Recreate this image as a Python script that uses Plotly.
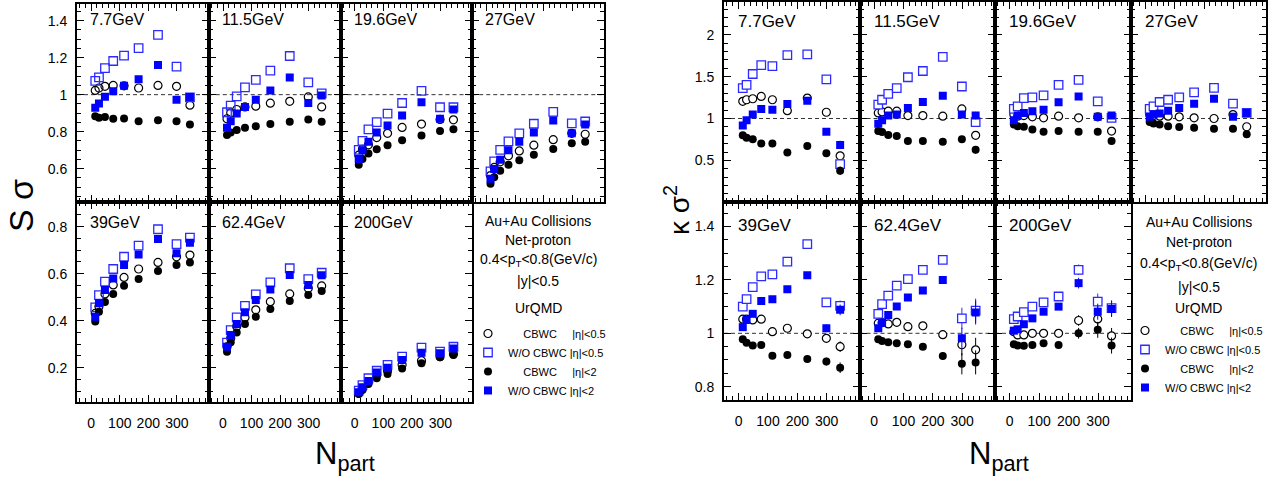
import plotly.graph_objects as go

W, H = 1274, 482
FONT = "Liberation Sans, Arial, sans-serif"

NPART = [14, 27, 48, 77, 115, 166, 234, 299, 346]
ENERGIES = ["7.7GeV", "11.5GeV", "19.6GeV", "27GeV", "39GeV", "62.4GeV", "200GeV"]
X_TICKS = [0, 100, 200, 300]

# ---- S sigma (left figure), one list per energy ----
SS_CBWC_ETA05 = [
    [1.023, 1.036, 1.045, 1.050, 1.048, 1.036, 1.050, 1.045, 0.943],
    [0.870, 0.902, 0.920, 0.934, 0.938, 0.954, 0.964, 0.988, 0.934],
    [0.673, 0.705, 0.729, 0.768, 0.791, 0.823, 0.841, 0.866, 0.864],
    [0.563, 0.607, 0.637, 0.670, 0.696, 0.727, 0.757, 0.791, 0.786],
    [0.431, 0.460, 0.514, 0.552, 0.584, 0.620, 0.648, 0.672, 0.679],
    [0.289, 0.325, 0.375, 0.414, 0.446, 0.481, 0.514, 0.538, 0.548],
    [0.091, 0.112, 0.141, 0.169, 0.187, 0.212, 0.230, 0.247, 0.258],
]
SS_WO_ETA05 = [
    [1.075, 1.093, 1.143, 1.182, 1.211, 1.252, 1.323, 1.152, 0.985],
    [0.905, 0.941, 0.991, 1.039, 1.080, 1.130, 1.209, 1.066, 1.007],
    [0.702, 0.750, 0.813, 0.852, 0.898, 0.955, 1.021, 0.932, 0.932],
    [0.586, 0.639, 0.702, 0.748, 0.791, 0.843, 0.907, 0.845, 0.855],
    [0.457, 0.509, 0.566, 0.620, 0.672, 0.719, 0.789, 0.726, 0.753],
    [0.307, 0.360, 0.414, 0.463, 0.512, 0.563, 0.623, 0.577, 0.604],
    [0.102, 0.126, 0.155, 0.187, 0.212, 0.247, 0.285, 0.268, 0.289],
]
SS_CBWC_ETA2 = [
    [0.884, 0.875, 0.879, 0.870, 0.871, 0.857, 0.862, 0.857, 0.839],
    [0.782, 0.795, 0.809, 0.821, 0.829, 0.841, 0.854, 0.866, 0.854],
    [0.621, 0.652, 0.682, 0.705, 0.727, 0.754, 0.780, 0.804, 0.813],
    [0.518, 0.554, 0.589, 0.621, 0.646, 0.675, 0.707, 0.738, 0.746],
    [0.396, 0.438, 0.480, 0.514, 0.549, 0.577, 0.611, 0.637, 0.648],
    [0.268, 0.308, 0.350, 0.386, 0.417, 0.450, 0.484, 0.509, 0.526],
    [0.088, 0.105, 0.131, 0.155, 0.173, 0.197, 0.219, 0.244, 0.254],
]
SS_WO_ETA2 = [
    [0.929, 0.952, 0.989, 1.018, 1.048, 1.084, 1.161, 0.973, 0.987],
    [0.821, 0.857, 0.898, 0.934, 0.973, 1.023, 1.093, 0.955, 0.995],
    [0.652, 0.700, 0.746, 0.795, 0.834, 0.888, 0.959, 0.870, 0.920],
    [0.545, 0.598, 0.648, 0.700, 0.745, 0.795, 0.861, 0.791, 0.839],
    [0.417, 0.474, 0.531, 0.580, 0.637, 0.682, 0.748, 0.687, 0.732],
    [0.289, 0.339, 0.386, 0.436, 0.488, 0.533, 0.594, 0.552, 0.593],
    [0.095, 0.117, 0.143, 0.179, 0.200, 0.233, 0.264, 0.261, 0.282],
]

# ---- kappa sigma^2 (right figure) ----
KS_CBWC_ETA05 = [
    [1.205, 1.224, 1.236, 1.264, 1.224, 1.094, 1.244, 1.075, 0.555],
    [1.067, 1.079, 1.087, 1.087, 1.035, 1.035, 1.028, 1.114, 0.799],
    [1.047, 1.028, 1.035, 1.020, 1.008, 1.028, 1.008, 1.020, 0.850],
    [1.047, 1.035, 1.028, 1.028, 1.020, 1.008, 1.000, 1.047, 0.902],
    [1.053, 1.053, 1.050, 1.053, 1.006, 1.019, 0.998, 0.981, 0.950],
    [1.038, 1.040, 1.035, 1.041, 1.025, 1.028, 0.995, 0.957, 0.938],
    [1.006, 0.994, 0.994, 1.000, 1.000, 1.000, 1.048, 1.054, 0.990],
]
KS_WO_ETA05 = [
    [1.362, 1.402, 1.531, 1.638, 1.626, 1.756, 1.764, 1.468, 0.457],
    [1.165, 1.224, 1.295, 1.362, 1.492, 1.567, 1.736, 1.382, 0.957],
    [1.114, 1.146, 1.244, 1.252, 1.276, 1.402, 1.461, 1.205, 1.008],
    [1.114, 1.146, 1.197, 1.224, 1.252, 1.311, 1.366, 1.177, 1.067],
    [1.100, 1.128, 1.173, 1.213, 1.221, 1.269, 1.334, 1.116, 1.103],
    [1.073, 1.109, 1.141, 1.179, 1.203, 1.238, 1.275, 1.056, 1.085],
    [1.053, 1.063, 1.079, 1.100, 1.116, 1.138, 1.238, 1.119, 1.094],
]
KS_CBWC_ETA2 = [
    [0.799, 0.772, 0.752, 0.701, 0.701, 0.594, 0.673, 0.587, 0.378],
    [0.850, 0.839, 0.803, 0.791, 0.732, 0.732, 0.724, 0.752, 0.626],
    [0.929, 0.909, 0.902, 0.870, 0.843, 0.850, 0.843, 0.843, 0.732],
    [0.957, 0.941, 0.929, 0.909, 0.898, 0.890, 0.878, 0.878, 0.811],
    [0.978, 0.965, 0.954, 0.956, 0.916, 0.919, 0.904, 0.894, 0.871],
    [0.978, 0.971, 0.966, 0.963, 0.959, 0.950, 0.915, 0.886, 0.891],
    [0.959, 0.954, 0.953, 0.956, 0.963, 0.956, 1.000, 1.013, 0.954],
]
KS_WO_ETA2 = [
    [0.917, 0.980, 1.047, 1.114, 1.106, 1.173, 1.213, 0.843, 0.685],
    [0.937, 0.980, 1.035, 1.047, 1.126, 1.197, 1.272, 1.047, 1.035],
    [0.980, 1.035, 1.067, 1.087, 1.106, 1.193, 1.264, 1.020, 1.035],
    [1.020, 1.047, 1.059, 1.094, 1.126, 1.177, 1.236, 1.020, 1.067],
    [1.023, 1.050, 1.073, 1.121, 1.128, 1.165, 1.218, 1.019, 1.088],
    [1.019, 1.040, 1.069, 1.100, 1.134, 1.160, 1.200, 0.981, 1.078],
    [1.010, 1.015, 1.034, 1.056, 1.081, 1.100, 1.188, 1.081, 1.091],
]
KS_ERR = [
    [0.005, 0.005, 0.005, 0.005, 0.005, 0.008, 0.010, 0.030, 0.050],
    [0.005, 0.005, 0.005, 0.005, 0.005, 0.008, 0.020, 0.035, 0.045],
    [0.005, 0.005, 0.005, 0.005, 0.005, 0.008, 0.010, 0.020, 0.025],
    [0.005, 0.005, 0.005, 0.005, 0.005, 0.008, 0.010, 0.015, 0.020],
    [0.003, 0.003, 0.003, 0.004, 0.004, 0.005, 0.006, 0.015, 0.020],
    [0.003, 0.003, 0.004, 0.004, 0.005, 0.006, 0.015, 0.040, 0.045],
    [0.003, 0.003, 0.004, 0.004, 0.005, 0.006, 0.020, 0.030, 0.030],
]

LEGEND_NAMES = [
    "\u00a0\u00a0\u00a0\u00a0\u00a0CBWC\u00a0\u00a0\u00a0\u00a0\u00a0|\u03b7|&lt;0.5",
    "W/O CBWC |\u03b7|&lt;0.5",
    "\u00a0\u00a0\u00a0\u00a0\u00a0CBWC\u00a0\u00a0\u00a0\u00a0\u00a0|\u03b7|&lt;2",
    "W/O CBWC |\u03b7|&lt;2",
]
INFO_LINES = ["Au+Au Collisions", "Net-proton", "0.4&lt;p<sub>T</sub>&lt;0.8(GeV/c)", "|y|&lt;0.5", "UrQMD"]

BLUE_OPEN = "#2b2bff"
BLUE_FULL = "#0000ff"


def markers(filled_open):
    fill = "white" if filled_open else "rgba(0,0,0,0)"
    return [
        dict(symbol="circle", color=fill, size=8, line=dict(width=1.2, color="black")),
        dict(symbol="square", color=fill, size=8.5, line=dict(width=1.3, color=BLUE_OPEN)),
        dict(symbol="circle", color="black", size=8, line=dict(width=0)),
        dict(symbol="square", color=BLUE_FULL, size=8, line=dict(width=0)),
    ]


ERR_COLORS = ["black", BLUE_OPEN, "black", BLUE_FULL]

# ---- geometry (pixels) ----
FIGS = [
    dict(xs=[77, 208.75, 340.5, 472.25, 604], rows=[(4, 202), (202, 402)],
         yr=[[0.42, 1.49], [0.054, 0.905]], dt=[0.2, 0.2], mdt=[0.05, 0.05],
         series=[SS_CBWC_ETA05, SS_WO_ETA05, SS_CBWC_ETA2, SS_WO_ETA2], err=None,
         dash_rows=[0], lab_dy=[15.5, 20.5], lab_dx=11, lab_size=16,
         info_y=[220.7, 239.5, 260, 281, 308], legend="legend", mk=markers(False)),
    dict(xs=[724, 859.5, 995, 1131, 1266], rows=[(2, 201.5), (201.5, 400)],
         yr=[[0.01, 2.39], [0.75, 1.494]], dt=[0.5, 0.2], mdt=[0.1, 0.05],
         series=[KS_CBWC_ETA05, KS_WO_ETA05, KS_CBWC_ETA2, KS_WO_ETA2], err=KS_ERR,
         dash_rows=[0, 1], lab_dy=[19.5, 23.5], lab_dx=12, lab_size=17,
         info_y=[221.7, 242, 263.5, 287, 308.3], legend="legend2", mk=markers(True)),
]
XR = [-50, 412]

fig = go.Figure()
layout = dict(width=W, height=H, margin=dict(l=0, r=0, t=0, b=0, autoexpand=False),
              paper_bgcolor="white", plot_bgcolor="white",
              font=dict(family=FONT, color="black", size=14), showlegend=True)
annotations = []
shapes = []

for f, spec in enumerate(FIGS):
    for r in range(2):
        y0p, y1p = spec["rows"][r]
        for c in range(4):
            k = f * 8 + r * 4 + c + 1
            sfx = "" if k == 1 else str(k)
            x0p, x1p = spec["xs"][c], spec["xs"][c + 1]
            common = dict(showline=True, linecolor="black", linewidth=2, mirror="allticks",
                          ticks="inside", ticklen=7, tickwidth=1.2, tickcolor="black",
                          showgrid=False, zeroline=False, automargin=False,
                          tickfont=dict(family=FONT, size=14, color="black"))
            layout["xaxis" + sfx] = dict(
                common, domain=[x0p / W, x1p / W], anchor="y" + sfx, range=XR,
                tickmode="array", tickvals=X_TICKS, ticktext=[str(v) for v in X_TICKS],
                showticklabels=(r == 1), ticklabelstandoff=7,
                minor=dict(ticks="inside", ticklen=4, tickmode="linear", dtick=20, tick0=0,
                           tickcolor="black", tickwidth=1))
            layout["yaxis" + sfx] = dict(
                common, domain=[1 - y1p / H, 1 - y0p / H], anchor="x" + sfx,
                range=spec["yr"][r], dtick=spec["dt"][r], tick0=0,
                showticklabels=(c == 0), ticklabelstandoff=5,
                minor=dict(ticks="inside", ticklen=4, dtick=spec["mdt"][r], tick0=0,
                           tickcolor="black", tickwidth=1))
            e = r * 4 + c
            if e < 7:
                annotations.append(dict(
                    text=ENERGIES[e], xref="paper", yref="paper",
                    x=(x0p + spec["lab_dx"]) / W, y=1 - (y0p + spec["lab_dy"][r]) / H,
                    xanchor="left", yanchor="middle", showarrow=False,
                    font=dict(family=FONT, size=spec["lab_size"], color="black")))
                if r in spec["dash_rows"]:
                    shapes.append(dict(type="line", xref="x" + sfx + " domain", x0=0, x1=1,
                                       yref="y" + sfx, y0=1, y1=1, layer="below",
                                       line=dict(color="#333333", width=1, dash="4px,3px")))
                for s, series in enumerate(spec["series"]):
                    tr = dict(x=NPART, y=series[e], mode="markers", xaxis="x" + sfx,
                              yaxis="y" + sfx, marker=spec["mk"][s], name=LEGEND_NAMES[s],
                              legend=spec["legend"], showlegend=(e == 0), cliponaxis=True)
                    if spec["err"] is not None:
                        tr["error_y"] = dict(type="data", array=spec["err"][e], width=0,
                                             thickness=1, color=ERR_COLORS[s])
                    fig.add_trace(go.Scatter(**tr))
            else:
                cx = (x0p + x1p) / 2
                for txt, yy in zip(INFO_LINES, spec["info_y"]):
                    annotations.append(dict(
                        text=txt, xref="paper", yref="paper", x=cx / W, y=1 - yy / H,
                        xanchor="center", yanchor="middle", showarrow=False,
                        font=dict(family=FONT, size=14, color="black")))

# legends inside the info panels
layout["legend"] = dict(x=468 / W, y=1 - 319 / H, xanchor="left", yanchor="top",
                        bgcolor="rgba(0,0,0,0)", borderwidth=0, tracegroupgap=0,
                        font=dict(family=FONT, size=11, color="black"), itemwidth=30)
layout["legend2"] = dict(x=1125 / W, y=1 - 316 / H, xanchor="left", yanchor="top",
                         bgcolor="rgba(0,0,0,0)", borderwidth=0, tracegroupgap=0,
                         font=dict(family=FONT, size=11, color="black"), itemwidth=30)

# axis titles
annotations += [
    dict(text="S \u03c3", xref="paper", yref="paper", x=21 / W, y=1 - 206 / H,
         textangle=-90, showarrow=False, xanchor="center", yanchor="middle",
         font=dict(family=FONT, size=34, color="black")),
    dict(text="\u03ba \u03c3<sup>2</sup>", xref="paper", yref="paper", x=677 / W, y=1 - 210 / H,
         textangle=-90, showarrow=False, xanchor="center", yanchor="middle",
         font=dict(family=FONT, size=28, color="black")),
    dict(text="N<sub>part</sub>", xref="paper", yref="paper", x=345 / W, y=1 - 456 / H,
         showarrow=False, xanchor="center", yanchor="middle",
         font=dict(family=FONT, size=31, color="black")),
    dict(text="N<sub>part</sub>", xref="paper", yref="paper", x=999 / W, y=1 - 456 / H,
         showarrow=False, xanchor="center", yanchor="middle",
         font=dict(family=FONT, size=31, color="black")),
]
layout["annotations"] = annotations
layout["shapes"] = shapes
fig.update_layout(**layout)
fig.write_html("out.html", config={"displayModeBar": False},
               post_script="document.body.style.margin='0';document.body.style.overflow='hidden';")
